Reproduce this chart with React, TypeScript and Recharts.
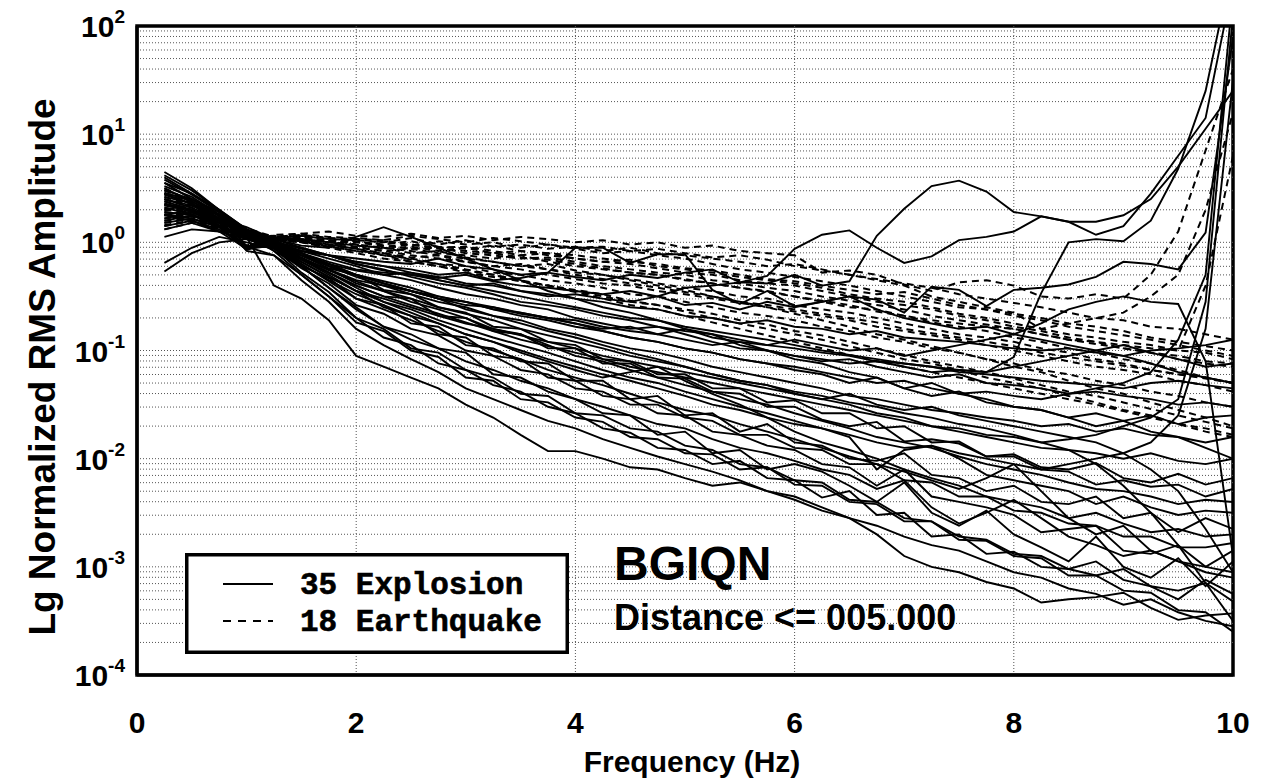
import React from 'react';
import { LineChart, Line, XAxis, YAxis, ReferenceLine, ReferenceArea } from 'recharts';

// Frequency samples (Hz)
const freqs = [0.25, 0.5, 0.75, 1, 1.25, 1.5, 1.75, 2, 2.25, 2.5, 2.75, 3, 3.25, 3.5, 3.75, 4, 4.25, 4.5, 4.75, 5, 5.25, 5.5, 5.75, 6, 6.25, 6.5, 6.75, 7, 7.25, 7.5, 7.75, 8, 8.25, 8.5, 8.75, 9, 9.25, 9.5, 9.75, 10];

const xTicks = [0, 2, 4, 6, 8, 10];
const xGridValues = [2, 4, 6, 8];
const yTicks = [0.0001, 0.001, 0.01, 0.1, 1, 10, 100];
const yTickExponents = ['-4', '-3', '-2', '-1', '0', '1', '2'];
const gridDecades = [0.0001, 0.001, 0.01, 0.1, 1, 10];
const gridMultipliers = [1, 2, 3, 4, 5, 6, 7, 8, 9];

// Explosion spectra, log10 of normalized RMS amplitude at each frequency
const exp01 = [0.35,0.30,0.18,0.10,0.00,-0.10,-0.18,-0.25, -0.28,-0.30,-0.33,-0.30,-0.36,-0.40,-0.42,-0.45, -0.48,-0.45,-0.50,-0.42,-0.40,-0.37,-0.38,-0.30, -0.40,-0.36,0.06,0.31,0.52,0.57,0.47,0.28, 0.24,0.19,0.19,0.25,0.40,0.70,1.05,1.40];
const exp02 = [0.25,0.20,0.10,0.10,-0.02,-0.08,-0.12,-0.15, -0.18,-0.20,-0.15,-0.22,-0.25,-0.30,-0.28,-0.32, -0.35,-0.30,-0.33,-0.28,-0.25,-0.37,-0.31,-0.06, 0.07,0.11,-0.05,-0.19,-0.13,0.02,0.05,0.10, 0.24,0.19,0.07,0.15,0.45,0.80,1.15,2.40];
const exp03 = [0.45,0.40,0.25,-0.04,0.00,-0.08,-0.12,-0.18, -0.22,-0.25,-0.30,-0.28,-0.35,-0.33,-0.28,-0.05, -0.05,-0.19,-0.11,-0.11,-0.44,-0.57,-0.45,-0.59, -0.55,-0.50,-0.62,-0.70,-0.75,-0.80,-0.78,-0.85, -0.90,-0.95,-1.00,-1.05,-1.12,-1.20,-1.25,-1.30];
const exp04 = [0.30,0.35,0.20,0.08,0.02,-0.10,-0.22,-0.30, -0.38,-0.45,-0.50,-0.55,-0.62,-0.65,-0.70,-0.75, -0.80,-0.78,-0.85,-0.90,-0.95,-0.92,-1.00,-1.05, -1.08,-1.12,-1.10,-1.15,-1.20,-1.18,-1.20,-1.06, -0.47,0.00,0.03,0.01,0.20,0.68,1.40,2.60];
const exp05 = [0.20,0.25,0.15,-0.06,-0.02,-0.12,-0.20,-0.26, -0.30,-0.28,-0.35,-0.40,-0.38,-0.45,-0.50,-0.48, -0.52,-0.55,-0.50,-0.58,-0.56,-0.62,-0.55,-0.60, -0.55,-0.50,-0.53,-0.65,-0.41,-0.44,-0.59,-0.44, -0.42,-0.39,-0.32,-0.18,-0.20,-0.25,0.09,1.90];
const exp06 = [0.55,0.45,0.30,0.08,0.00,-0.15,-0.25,-0.35, -0.40,-0.45,-0.52,-0.58,-0.60,-0.66,-0.70,-0.72, -0.78,-0.82,-0.85,-0.80,-0.88,-0.92,-0.95,-0.90, -0.95,-1.00,-0.98,-1.05,-1.00,-0.95,-0.90,-0.85, -0.75,-0.62,-0.55,-0.50,-0.55,-0.57,-1.10,-2.90];
const exp07 = [0.38,0.30,0.22,0.12,0.03,-0.03,-0.05,0.05, 0.14,0.05,-0.05,-0.15,-0.25,-0.35,-0.45,-0.52, -0.60,-0.65,-0.72,-0.80,-0.85,-0.95,-1.00,-1.08, -1.12,-1.20,-1.25,-1.35,-1.30,-1.40,-1.45,-1.52, -1.55,-1.62,-1.70,-1.65,-1.75,-1.80,-1.90,-2.00];
const exp08 = [0.45,0.35,0.20,0.05,-0.40,-0.52,-0.72,-1.05, -1.15,-1.25,-1.35,-1.50,-1.62,-1.78,-1.93,-1.93, -2.00,-2.08,-2.10,-2.18,-2.25,-2.22,-2.30,-2.35, -2.45,-2.55,-2.70,-2.90,-3.00,-3.05,-3.14,-3.20, -3.33,-3.30,-3.28,-3.24,-3.38,-3.49,-3.45,-3.43];
const exp09 = [0.25,0.30,0.18,-0.04,-0.12,-0.30,-0.50,-0.70, -0.88,-0.95,-1.12,-1.18,-1.32,-1.38,-1.52,-1.58, -1.72,-1.76,-1.90,-1.92,-2.05,-2.02,-2.18,-2.20, -2.36,-2.30,-2.52,-2.50,-2.72,-2.70,-2.88,-2.86, -3.00,-3.02,-2.95,-3.12,-3.18,-3.30,-3.12,-3.25];
const exp10 = [0.55,0.40,0.28,0.10,-0.08,-0.22,-0.42,-0.60, -0.78,-0.85,-0.98,-1.02,-1.22,-1.25,-1.38,-1.45, -1.58,-1.60,-1.78,-1.75,-1.95,-1.92,-2.10,-2.05, -2.12,-2.25,-2.40,-2.22,-2.50,-2.62,-2.48,-2.70, -2.82,-2.95,-2.72,-3.00,-3.10,-2.92,-3.18,-2.95];
const exp11 = [0.15,0.20,0.12,-0.03,-0.05,-0.22,-0.33,-0.52, -0.58,-0.75,-0.78,-0.95,-0.98,-1.10,-1.12,-1.28, -1.28,-1.45,-1.42,-1.60,-1.58,-1.75,-1.68,-1.85, -1.88,-2.00,-2.02,-1.95,-2.15,-2.18,-2.30,-2.25, -2.40,-2.42,-2.35,-2.55,-2.50,-2.68,-2.55,-2.65];
const exp12 = [0.65,0.50,0.30,0.12,-0.02,-0.15,-0.28,-0.40, -0.50,-0.52,-0.68,-0.70,-0.82,-0.85,-0.98,-0.98, -1.12,-1.12,-1.25,-1.26,-1.38,-1.40,-1.52,-1.52, -1.64,-1.70,-1.66,-1.84,-1.82,-1.86,-1.98,-1.96, -2.08,-2.10,-2.04,-2.18,-2.22,-2.14,-2.24,-2.18];
const exp13 = [0.40,0.32,0.20,-0.05,0.00,-0.12,-0.22,-0.32, -0.40,-0.48,-0.55,-0.60,-0.68,-0.72,-0.80,-0.85, -0.92,-0.98,-1.02,-1.08,-1.15,-1.20,-1.25,-1.30, -1.35,-1.42,-1.45,-1.50,-1.55,-1.58,-1.62,-1.65, -1.70,-1.68,-1.75,-1.72,-1.78,-1.80,-1.85,-1.80];
const exp14 = [0.35,0.28,0.18,0.10,0.00,-0.08,-0.15,-0.22, -0.30,-0.35,-0.42,-0.48,-0.52,-0.58,-0.62,-0.70, -0.75,-0.80,-0.78,-0.85,-0.92,-0.98,-1.00,-1.05, -1.10,-1.08,-1.15,-1.20,-1.25,-1.22,-1.30,-1.32, -1.35,-1.40,-1.38,-1.42,-1.45,-1.50,-1.48,-1.52];
const exp15 = [0.28,0.25,0.15,0.04,0.00,-0.05,-0.12,-0.18, -0.22,-0.28,-0.32,-0.38,-0.40,-0.45,-0.48,-0.52, -0.55,-0.60,-0.62,-0.68,-0.70,-0.75,-0.72,-0.78, -0.80,-0.85,-0.82,-0.88,-0.90,-0.92,-0.95,-0.98, -1.00,-0.98,-1.02,-1.05,-1.00,-0.98,-0.95,-0.90];
const exp16 = [-0.27,-0.10,0.00,0.03,-0.05,-0.18,-0.32,-0.45, -0.60,-0.68,-0.85,-0.88,-1.05,-1.08,-1.25,-1.28, -1.42,-1.45,-1.58,-1.60,-1.75,-1.78,-1.88,-1.92, -2.05,-2.08,-2.25,-2.10,-2.35,-2.40,-2.45,-2.52, -2.68,-2.65,-2.62,-2.85,-2.88,-2.80,-3.00,-2.85];
const exp17 = [-0.19,-0.05,0.05,0.00,-0.06,-0.15,-0.25,-0.38, -0.45,-0.55,-0.62,-0.70,-0.80,-0.85,-0.95,-1.05, -1.10,-1.18,-1.25,-1.32,-1.38,-1.45,-1.50,-1.58, -1.65,-1.72,-1.80,-1.85,-1.90,-1.98,-2.05,-2.10, -2.15,-2.22,-2.28,-2.30,-2.35,-2.42,-2.38,-2.40];
const exp18 = [0.50,0.38,0.22,-0.08,-0.12,-0.35,-0.55,-0.80, -0.95,-1.08,-1.20,-1.35,-1.45,-1.55,-1.65,-1.72, -1.82,-1.90,-1.98,-2.05,-2.12,-2.20,-2.30,-2.38, -2.48,-2.55,-2.62,-2.72,-2.80,-2.85,-2.95,-3.05, -3.10,-3.20,-3.25,-3.35,-3.30,-3.42,-3.50,-3.55];
const exp19 = [0.42,0.36,0.22,0.07,0.00,-0.10,-0.20,-0.30, -0.38,-0.45,-0.52,-0.55,-0.62,-0.68,-0.72,-0.78, -0.82,-0.88,-0.92,-0.98,-1.02,-1.08,-1.12,-1.15, -1.20,-1.25,-1.30,-1.28,-1.35,-1.40,-1.38,-1.42, -1.45,-1.40,-1.35,-1.30,-1.20,-0.90,-0.30,2.30];
const exp20 = [0.60,0.45,0.28,0.08,-0.02,-0.20,-0.35,-0.48, -0.58,-0.68,-0.75,-0.85,-0.92,-1.00,-1.08,-1.15, -1.22,-1.28,-1.35,-1.42,-1.50,-1.55,-1.62,-1.68, -1.72,-1.78,-1.85,-1.90,-1.88,-1.95,-2.00,-2.05, -2.10,-2.05,-2.00,-1.95,-1.85,-1.60,-0.80,1.50];
const exp21 = [0.22,0.28,0.16,0.05,-0.03,-0.22,-0.42,-0.62, -0.78,-0.90,-0.98,-1.10,-1.18,-1.28,-1.35,-1.45, -1.52,-1.60,-1.68,-1.72,-1.82,-1.90,-1.95,-2.02, -2.10,-2.15,-2.28,-2.20,-2.45,-2.60,-2.50,-2.38, -2.55,-2.72,-2.80,-2.90,-2.85,-2.95,-3.05,-3.10];
const exp22 = [0.48,0.40,0.25,0.12,0.02,-0.10,-0.20,-0.30, -0.38,-0.45,-0.52,-0.62,-0.68,-0.75,-0.82,-0.88, -0.95,-1.02,-1.08,-1.15,-1.22,-1.28,-1.32,-1.40, -1.45,-1.50,-1.58,-1.62,-1.70,-1.75,-1.80,-1.85, -1.90,-1.92,-1.95,-2.00,-1.95,-2.02,-2.05,-2.00];
const exp23 = [0.32,0.26,0.16,0.04,-0.02,-0.15,-0.28,-0.42, -0.55,-0.65,-0.75,-0.85,-0.92,-1.02,-1.10,-1.18, -1.25,-1.20,-1.15,-1.28,-1.40,-1.50,-1.62,-1.75, -1.85,-1.92,-2.00,-2.10,-2.18,-2.25,-2.35,-2.40, -2.45,-2.55,-2.50,-2.60,-2.68,-2.65,-2.72,-2.70];
const exp24 = [0.18,0.22,0.14,-0.07,0.01,-0.06,-0.12,-0.20, -0.25,-0.32,-0.38,-0.42,-0.48,-0.55,-0.58,-0.62, -0.68,-0.72,-0.78,-0.82,-0.85,-0.90,-0.95,-0.98, -1.02,-1.05,-1.10,-1.12,-1.15,-1.18,-1.20,-1.15, -1.10,-1.05,-1.00,-0.95,-1.02,-1.08,-1.15,-1.12];
const exp25 = [0.62,0.48,0.30,0.12,-0.05,-0.28,-0.46,-0.70, -0.80,-0.98,-1.02,-1.18,-1.25,-1.40,-1.42,-1.58, -1.60,-1.72,-1.75,-1.88,-1.92,-2.05,-2.08,-2.20, -2.22,-2.38,-2.40,-2.55,-2.58,-2.72,-2.75,-2.88, -2.90,-3.02,-3.08,-3.02,-3.18,-3.22,-3.15,-3.32];
const exp26 = [0.12,0.18,0.10,0.03,-0.04,-0.16,-0.30,-0.45, -0.55,-0.62,-0.72,-0.80,-0.88,-0.95,-1.02,-1.10, -1.18,-1.25,-1.30,-1.38,-1.45,-1.52,-1.58,-1.65, -1.72,-1.80,-2.10,-1.92,-1.88,-2.00,-2.15,-2.20, -2.25,-2.30,-2.42,-2.35,-2.45,-2.52,-2.48,-2.50];
const exp27 = [0.36,0.30,0.18,0.11,0.00,-0.14,-0.26,-0.36, -0.45,-0.52,-0.60,-0.66,-0.72,-0.80,-0.86,-0.92, -0.98,-1.05,-1.10,-1.15,-1.22,-1.28,-1.32,-1.38, -1.42,-1.48,-1.52,-1.58,-1.62,-1.68,-1.72,-1.78, -1.85,-1.92,-2.05,-2.25,-2.50,-2.80,-3.15,-3.50];
const exp28 = [0.52,0.42,0.26,0.07,-0.01,-0.18,-0.32,-0.45, -0.52,-0.60,-0.68,-0.75,-0.80,-0.86,-0.92,-0.98, -1.05,-1.10,-1.15,-1.20,-1.25,-1.30,-1.35,-1.40, -1.45,-1.40,-1.50,-1.55,-1.52,-1.60,-1.65,-1.70, -1.75,-1.80,-1.85,-1.95,-2.10,-2.30,-2.65,-3.05];
const exp29 = [0.05,0.12,0.10,-0.06,-0.03,-0.12,-0.24,-0.30, -0.44,-0.48,-0.60,-0.65,-0.78,-0.80,-0.92,-0.95, -1.08,-1.10,-1.22,-1.22,-1.35,-1.35,-1.48,-1.46, -1.58,-1.58,-1.72,-1.70,-1.85,-1.84,-1.98,-1.98, -2.10,-2.12,-2.24,-2.20,-2.26,-2.24,-2.35,-2.28];
const exp30 = [0.58,0.44,0.28,-0.04,-0.01,-0.12,-0.22,-0.30, -0.36,-0.42,-0.50,-0.55,-0.60,-0.65,-0.70,-0.75, -0.82,-0.88,-0.92,-0.98,-1.02,-1.08,-1.12,-1.18, -1.22,-1.30,-1.25,-1.35,-1.42,-1.38,-1.48,-1.52, -1.55,-1.62,-1.58,-1.65,-1.60,-1.68,-1.62,-1.60];
const exp31 = [0.44,0.36,0.22,0.12,-0.06,-0.24,-0.38,-0.58, -0.66,-0.80,-0.86,-1.00,-1.05,-1.18,-1.22,-1.35, -1.38,-1.50,-1.50,-1.62,-1.65,-1.78,-1.78,-1.90, -1.92,-2.05,-2.05,-2.20,-2.22,-2.35,-2.35,-2.48, -2.50,-2.60,-2.62,-2.72,-2.72,-2.82,-2.82,-2.78];
const exp32 = [0.26,0.22,0.14,0.03,-0.05,-0.20,-0.36,-0.52, -0.62,-0.72,-0.82,-0.92,-1.00,-1.08,-1.18,-1.25, -1.32,-1.40,-1.48,-1.55,-1.60,-1.68,-1.75,-1.82, -1.90,-1.98,-2.05,-2.12,-2.20,-2.28,-2.18,-2.05, -2.30,-2.55,-2.70,-2.62,-2.85,-2.95,-3.00,-3.05];
const exp33 = [0.40,0.34,0.22,0.14,0.03,-0.05,-0.12,-0.20, -0.26,-0.30,-0.35,-0.40,-0.45,-0.50,-0.55,-0.60, -0.65,-0.70,-0.72,-0.78,-0.82,-0.86,-0.90,-0.95, -1.00,-1.04,-1.08,-1.12,-1.15,-1.20,-1.22,-1.25, -1.28,-1.30,-1.32,-1.35,-1.30,-1.28,-1.32,-1.35];
const exp34 = [0.34,0.30,0.20,0.06,-0.01,-0.16,-0.28,-0.40, -0.50,-0.58,-0.66,-0.74,-0.82,-0.90,-0.96,-1.02, -1.08,-1.15,-1.20,-1.25,-1.30,-1.35,-1.40,-1.45, -1.50,-1.55,-1.60,-1.65,-1.70,-1.72,-1.78,-1.80, -1.85,-1.82,-1.78,-1.70,-1.62,-1.45,-0.55,2.10];
const exp35 = [0.46,0.38,0.24,0.06,-0.08,-0.30,-0.50,-0.74, -0.82,-1.00,-1.06,-1.25,-1.28,-1.45,-1.48,-1.62, -1.66,-1.80,-1.82,-1.95,-1.96,-2.10,-2.08,-2.24, -2.25,-2.40,-2.42,-2.58,-2.58,-2.75,-2.76,-2.90, -2.92,-3.08,-3.08,-3.22,-3.24,-3.40,-3.42,-3.60];

// Earthquake spectra, log10 of normalized RMS amplitude
const eq01 = [0.40,0.32,0.20,0.08,0.05,0.08,0.10,0.06, 0.05,0.08,0.04,0.06,0.02,0.05,0.03,0.00, 0.02,-0.02,0.00,-0.05,-0.03,-0.08,-0.10,-0.12, -0.28,-0.26,-0.30,-0.39,-0.45,-0.37,-0.35,-0.40, -0.50,-0.52,-0.48,-0.52,-0.30,0.10,0.85,1.60];
const eq02 = [0.22,0.25,0.15,-0.04,0.04,0.06,0.03,0.02, 0.00,0.04,-0.02,0.02,-0.04,-0.02,-0.06,-0.04, -0.08,-0.05,-0.10,-0.12,-0.15,-0.18,-0.22,-0.20, -0.25,-0.30,-0.35,-0.40,-0.50,-0.55,-0.60,-0.65, -0.80,-0.75,-0.70,-0.65,-0.50,-0.30,0.30,1.20];
const eq03 = [0.30,0.28,0.18,0.07,0.04,0.02,-0.02,-0.05, -0.08,-0.06,-0.10,-0.12,-0.15,-0.12,-0.18,-0.22, -0.25,-0.28,-0.30,-0.35,-0.38,-0.42,-0.45,-0.50, -0.55,-0.60,-0.62,-0.68,-0.72,-0.75,-0.78,-0.80, -0.85,-0.90,-0.92,-0.95,-0.98,-1.00,-0.40,0.80];
const eq04 = [0.15,0.20,0.12,0.05,0.06,0.04,0.00,0.03, 0.02,-0.03,0.01,-0.02,0.00,-0.05,-0.02,-0.06, -0.10,-0.08,-0.12,-0.15,-0.20,-0.25,-0.28,-0.32, -0.36,-0.40,-0.45,-0.50,-0.55,-0.60,-0.62,-0.68, -0.72,-0.78,-0.82,-0.86,-0.90,-0.95,-1.00,-1.05];
const eq05 = [0.35,0.30,0.18,0.06,0.02,0.00,-0.04,-0.08, -0.10,-0.14,-0.12,-0.18,-0.22,-0.20,-0.25,-0.28, -0.30,-0.34,-0.38,-0.42,-0.45,-0.50,-0.52,-0.58, -0.62,-0.65,-0.70,-0.75,-0.80,-0.85,-0.88,-0.92, -0.98,-1.02,-1.08,-1.12,-1.18,-1.22,-1.25,-1.30];
const eq06 = [0.28,0.24,0.15,0.05,0.03,0.01,-0.03,-0.06, -0.12,-0.15,-0.20,-0.22,-0.28,-0.30,-0.35,-0.38, -0.42,-0.48,-0.50,-0.55,-0.60,-0.65,-0.68,-0.72, -0.78,-0.82,-0.88,-0.92,-0.98,-1.02,-1.08,-1.12, -1.18,-1.22,-1.28,-1.32,-1.38,-1.42,-1.48,-1.52];
const eq07 = [0.50,0.38,0.22,0.13,0.05,0.03,0.00,-0.03, -0.05,-0.10,-0.08,-0.14,-0.18,-0.22,-0.20,-0.26, -0.30,-0.35,-0.40,-0.44,-0.50,-0.55,-0.60,-0.66, -0.72,-0.78,-0.85,-0.90,-0.96,-1.02,-1.08,-1.15, -1.20,-1.28,-1.35,-1.40,-1.48,-1.55,-1.62,-1.70];
const eq08 = [0.18,0.22,0.14,0.04,0.02,0.05,0.02,-0.02, -0.06,-0.04,-0.08,-0.05,-0.10,-0.08,-0.12,-0.15, -0.18,-0.16,-0.22,-0.25,-0.28,-0.32,-0.35,-0.38, -0.42,-0.48,-0.52,-0.55,-0.60,-0.66,-0.70,-0.75, -0.80,-0.85,-0.88,-0.92,-0.95,-1.00,-1.02,-1.08];
const eq09 = [0.42,0.34,0.20,0.07,0.03,0.00,-0.05,-0.10, -0.15,-0.18,-0.22,-0.28,-0.32,-0.36,-0.40,-0.45, -0.50,-0.55,-0.58,-0.64,-0.70,-0.75,-0.80,-0.85, -0.90,-0.96,-1.02,-1.08,-1.12,-1.18,-1.25,-1.30, -1.35,-1.42,-1.48,-1.55,-1.60,-1.68,-1.75,-1.80];
const eq10 = [0.25,0.26,0.16,0.06,0.04,0.06,0.04,0.01, -0.02,0.01,-0.04,-0.06,-0.03,-0.08,-0.10,-0.12, -0.15,-0.18,-0.20,-0.24,-0.26,-0.30,-0.34,-0.36, -0.40,-0.44,-0.48,-0.46,-0.52,-0.58,-0.62,-0.66, -0.70,-0.75,-0.78,-0.82,-0.88,-0.92,-0.96,-1.00];
const eq11 = [0.32,0.28,0.17,0.06,0.03,0.02,0.00,-0.04, -0.08,-0.12,-0.15,-0.18,-0.22,-0.25,-0.30,-0.34, -0.38,-0.40,-0.45,-0.48,-0.52,-0.56,-0.60,-0.64, -0.68,-0.72,-0.78,-0.82,-0.86,-0.90,-0.95,-1.00, -1.05,-1.10,-1.15,-1.18,-1.22,-1.28,-1.32,-1.38];
const eq12 = [0.12,0.18,0.12,-0.03,0.07,0.08,0.05,0.04, 0.02,0.06,0.03,0.00,0.04,0.01,-0.02,-0.05, -0.04,-0.08,-0.06,-0.10,-0.14,-0.12,-0.16,-0.22, -0.26,-0.30,-0.34,-0.38,-0.42,-0.48,-0.52,-0.56, -0.60,-0.65,-0.70,-0.72,-0.78,-0.80,-0.85,-0.90];
const eq13 = [0.45,0.36,0.22,0.08,0.04,0.02,-0.02,-0.06, -0.10,-0.16,-0.20,-0.25,-0.30,-0.35,-0.40,-0.46, -0.52,-0.58,-0.62,-0.68,-0.74,-0.80,-0.86,-0.92, -0.98,-1.04,-1.10,-1.15,-1.20,-1.25,-1.30,-1.35, -1.40,-1.45,-1.50,-1.56,-1.62,-1.68,-1.72,-1.78];
const eq14 = [0.20,0.22,0.14,0.05,0.04,0.03,0.02,0.00, -0.03,-0.06,-0.05,-0.10,-0.12,-0.15,-0.14,-0.18, -0.22,-0.25,-0.28,-0.30,-0.35,-0.38,-0.42,-0.45, -0.50,-0.54,-0.58,-0.62,-0.68,-0.72,-0.76,-0.80, -0.85,-0.90,-0.94,-0.98,-1.02,-1.08,-1.12,-1.15];
const eq15 = [0.38,0.30,0.19,0.07,0.04,0.03,0.00,-0.02, -0.05,-0.08,-0.12,-0.15,-0.18,-0.22,-0.25,-0.30, -0.34,-0.38,-0.42,-0.46,-0.50,-0.55,-0.58,-0.62, -0.66,-0.70,-0.74,-0.80,-0.84,-0.88,-0.92,-0.96, -1.02,-1.06,-1.10,-1.14,-1.18,-1.22,-1.26,-1.30];
const eq16 = [0.26,0.24,0.16,0.06,0.05,0.07,0.04,0.03, 0.00,-0.02,-0.05,-0.04,-0.08,-0.12,-0.10,-0.15, -0.18,-0.20,-0.24,-0.28,-0.30,-0.35,-0.38,-0.40, -0.45,-0.50,-0.55,-0.58,-0.62,-0.68,-0.72,-0.78, -0.82,-0.88,-0.92,-0.98,-1.02,-1.05,-1.10,-1.12];
const eq17 = [0.48,0.37,0.22,0.08,0.04,0.01,-0.04,-0.08, -0.12,-0.18,-0.22,-0.26,-0.30,-0.36,-0.40,-0.44, -0.48,-0.54,-0.58,-0.62,-0.66,-0.72,-0.76,-0.82, -0.86,-0.92,-0.98,-1.04,-1.10,-1.15,-1.20,-1.26, -1.32,-1.38,-1.42,-1.48,-1.54,-1.60,-1.66,-1.72];
const eq18 = [0.16,0.20,0.13,0.04,0.03,0.04,0.02,0.01, -0.04,-0.02,-0.06,-0.08,-0.10,-0.14,-0.16,-0.20, -0.24,-0.28,-0.30,-0.34,-0.38,-0.42,-0.46,-0.50, -0.54,-0.58,-0.64,-0.68,-0.74,-0.78,-0.82,-0.88, -0.92,-0.98,-1.02,-1.08,-1.12,-1.18,-1.25,-1.30];

const explosions = [exp01, exp02, exp03, exp04, exp05, exp06, exp07, exp08, exp09, exp10, exp11, exp12, exp13, exp14, exp15, exp16, exp17, exp18, exp19, exp20, exp21, exp22, exp23, exp24, exp25, exp26, exp27, exp28, exp29, exp30, exp31, exp32, exp33, exp34, exp35];
const earthquakes = [eq01, eq02, eq03, eq04, eq05, eq06, eq07, eq08, eq09, eq10, eq11, eq12, eq13, eq14, eq15, eq16, eq17, eq18];

const data = freqs.map((f, i) => {
  const row: Record<string, number> = { f };
  explosions.forEach((s, j) => { row['x' + j] = Math.pow(10, s[i]); });
  earthquakes.forEach((s, j) => { row['q' + j] = Math.pow(10, s[i]); });
  return row;
});

const gridValues: number[] = [];
gridDecades.forEach((d) => gridMultipliers.forEach((m) => { if (!(d === 0.0001 && m === 1)) gridValues.push(m * d); }));

const SANS = "'Liberation Sans', Arial, Helvetica, sans-serif";
const MONO = "'Liberation Mono', 'Courier New', monospace";

const YTick = (props: any) => {
  const { x, y, payload } = props;
  const idx = yTicks.findIndex((t) => Math.abs(t - payload.value) / t < 1e-6);
  const exp = idx >= 0 ? yTickExponents[idx] : '';
  return (
    <text x={x} y={y} textAnchor="end" fontFamily={SANS} fontWeight={700} fill="#000">
      <tspan fontSize={30} dy={11}>10</tspan>
      <tspan fontSize={19} dy={-14}>{exp}</tspan>
    </text>
  );
};

export default function App() {
  return (
    <div style={{ position: 'absolute', left: 0, top: 0, width: 1262, height: 784, background: '#fff' }}>
      <LineChart width={1262} height={784} data={data} margin={{ top: 26, right: 29, bottom: 49, left: 0 }}>
        <XAxis
          dataKey="f"
          type="number"
          domain={[0, 10]}
          ticks={xTicks}
          allowDataOverflow
          tickLine={false}
          tickSize={0}
          tickMargin={37}
          height={60}
          axisLine={{ stroke: '#000', strokeWidth: 3 }}
          tick={{ fontSize: 30, fontWeight: 700, fill: '#000', fontFamily: SANS }}
        />
        <YAxis
          type="number"
          scale="log"
          domain={[0.0001, 100]}
          ticks={yTicks}
          allowDataOverflow
          width={137}
          tickLine={false}
          tickSize={0}
          tickMargin={12}
          axisLine={{ stroke: '#000', strokeWidth: 3 }}
          tick={<YTick />}
        />
        {gridValues.map((v) => (
          <ReferenceLine key={'h' + v} y={v} stroke="#555" strokeWidth={1} strokeDasharray="1 2" />
        ))}
        {xGridValues.map((v) => (
          <ReferenceLine key={'v' + v} x={v} stroke="#555" strokeWidth={1} strokeDasharray="1 2" />
        ))}
        {earthquakes.map((_, j) => (
          <Line key={'q' + j} dataKey={'q' + j} stroke="#000" strokeWidth={2} strokeDasharray="7 5" dot={false} isAnimationActive={false} />
        ))}
        {explosions.map((_, j) => (
          <Line key={'x' + j} dataKey={'x' + j} stroke="#000" strokeWidth={1.9} dot={false} isAnimationActive={false} />
        ))}
        <ReferenceArea x1={0} x2={10} y1={0.0001} y2={100} fill="none" stroke="#000" strokeWidth={3.5} ifOverflow="visible" />
      </LineChart>

      <div style={{ position: 'absolute', left: 42, top: 367, width: 0, height: 0 }}>
        <div style={{ position: 'absolute', left: 0, top: 0, transform: 'translate(-50%, -50%) rotate(-90deg)', whiteSpace: 'nowrap', fontFamily: SANS, fontWeight: 700, fontSize: 37, lineHeight: 1, color: '#000' }}>
          Lg Normalized RMS Amplitude
        </div>
      </div>
      <div style={{ position: 'absolute', left: 692, top: 762, transform: 'translate(-50%, -50%)', whiteSpace: 'nowrap', fontFamily: SANS, fontWeight: 700, fontSize: 30, color: '#000' }}>
        Frequency (Hz)
      </div>

      <svg style={{ position: 'absolute', left: 185, top: 553 }} width={384} height={101}>
        <rect x={1.75} y={1.75} width={380.5} height={97.5} fill="#fff" stroke="#000" strokeWidth={3.5} />
        <line x1={38} y1={31} x2={88} y2={31} stroke="#000" strokeWidth={2.2} />
        <line x1={38} y1={68} x2={88} y2={68} stroke="#000" strokeWidth={2.2} strokeDasharray="8 7" />
        <text x={115} y={41} fontFamily={MONO} fontWeight={700} fontSize={31} fill="#000" stroke="#000" strokeWidth={0.6}>35 Explosion</text>
        <text x={115} y={78} fontFamily={MONO} fontWeight={700} fontSize={31} fill="#000" stroke="#000" strokeWidth={0.6}>18 Earthquake</text>
      </svg>

      <div style={{ position: 'absolute', left: 614, top: 540, fontFamily: SANS, fontWeight: 700, fontSize: 48, color: '#000', lineHeight: 1 }}>BGIQN</div>
      <div style={{ position: 'absolute', left: 614, top: 600, fontFamily: SANS, fontWeight: 700, fontSize: 36, color: '#000', lineHeight: 1 }}>Distance &lt;= 005.000</div>
    </div>
  );
}
